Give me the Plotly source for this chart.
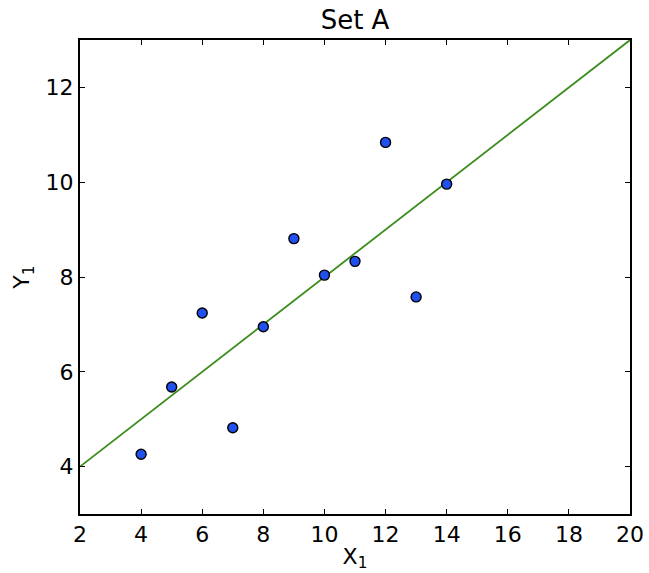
import plotly.graph_objects as go

x1 = [10, 8, 13, 9, 11, 14, 6, 4, 12, 7, 5]
y1 = [8.04, 6.95, 7.58, 8.81, 8.33, 9.96, 7.24, 4.26, 10.84, 4.82, 5.68]
fit_x = [2, 20]
fit_intercept = 3.0
fit_slope = 0.5
fit_y = [fit_intercept + fit_slope * v for v in fit_x]

font = "DejaVu Sans"

fig = go.Figure()
fig.add_trace(go.Scatter(x=fit_x, y=fit_y, mode="lines",
                         line=dict(color="#3c8c1c", width=1.8), hoverinfo="skip"))
fig.add_trace(go.Scatter(x=x1, y=y1, mode="markers",
                         marker=dict(color="#2050f0", size=10,
                                     line=dict(color="black", width=1.4))))

axis_common = dict(showgrid=False, zeroline=False, showline=True, linecolor="black",
                   linewidth=2, mirror="ticks", ticks="inside", ticklen=5,
                   tickwidth=1, tickcolor="black", automargin=False,
                   tickfont=dict(family=font, size=22, color="black"))

fig.update_layout(
    width=649, height=573,
    margin=dict(l=80, r=19, t=40, b=59),
    paper_bgcolor="white", plot_bgcolor="white",
    showlegend=False,
    title=dict(text="Set A", x=0.547, xanchor="center", y=0.965, yanchor="middle",
               font=dict(family=font, size=26, color="black")),
    xaxis=dict(range=[2, 20], tickvals=[2, 4, 6, 8, 10, 12, 14, 16, 18, 20],
               title=dict(text="X<sub>1</sub>", standoff=2,
                          font=dict(family=font, size=22, color="black")),
               **axis_common),
    yaxis=dict(range=[3, 13], tickvals=[4, 6, 8, 10, 12],
               title=dict(text="Y<sub>1</sub>", standoff=10,
                          font=dict(family=font, size=22, color="black")),
               **axis_common),
)

fig.write_html("out.html")
